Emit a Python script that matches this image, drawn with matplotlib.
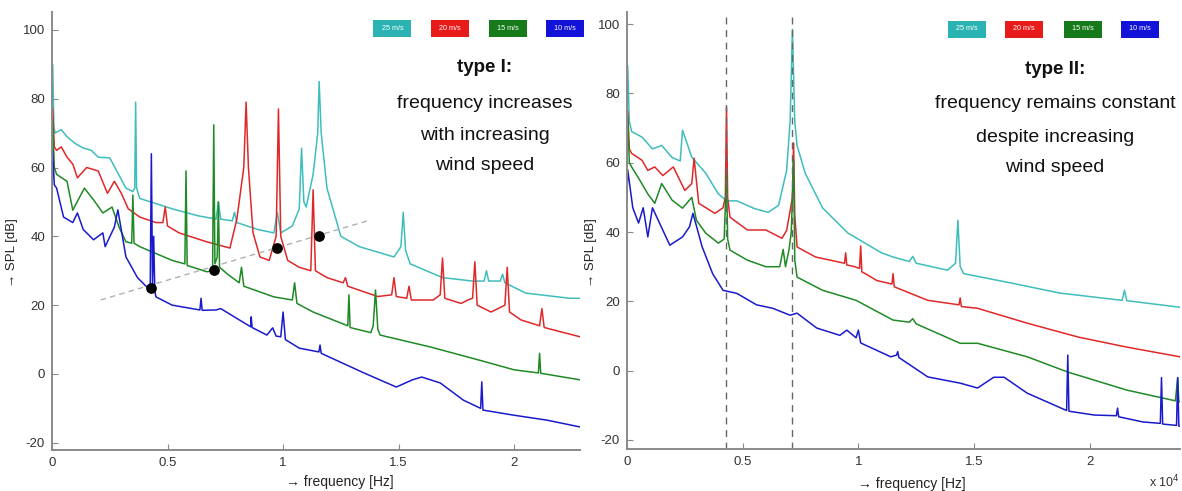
"""
plot.py - tonal peaks in SPL spectra at four wind speeds (type I vs type II).

Writes out.png (1182 x 491 px).
"""

import matplotlib.pyplot as plt
from matplotlib.patches import Rectangle

plt.rcParams.update({"font.family": ["Liberation Sans", "DejaVu Sans"],
                     "font.size": 9, "axes.unicode_minus": False})

# ---- data (frequency in 10^4 Hz, SPL in dB) ---------------------------------
speeds = ["25 m/s", "20 m/s", "15 m/s", "10 m/s"]
colors = ["#3FBDBD", "#E0282A", "#1F8A25", "#1A1ACC"]
box_colors = ["#2BB3B3", "#E81B1B", "#177A1A", "#1212D8"]

# type I (left panel)
l25_f = [0, 0.003, 0.008, 0.013, 0.04, 0.064, 0.1, 0.134, 0.17, 0.2, 0.25, 0.285,
         0.32, 0.35, 0.358, 0.362, 0.366, 0.38, 0.45, 0.52, 0.63, 0.71, 0.72, 0.73,
         0.78, 0.79, 0.80, 0.89, 0.96, 0.975, 0.99, 1.04, 1.07, 1.08, 1.09, 1.10,
         1.13, 1.15, 1.156, 1.165, 1.19, 1.25, 1.33, 1.48, 1.51, 1.52, 1.53, 1.55,
         1.69, 1.82, 1.87, 1.88, 1.89, 1.94, 1.95, 1.96, 2.05, 2.24, 2.285]
l25_db = [72, 90, 72, 70, 71, 69, 67, 65.7, 65, 63, 62.8, 58.4,
          54, 53, 54, 79, 54, 51, 49.5, 48, 46, 45, 50, 45,
          44.5, 47, 44, 42, 41, 47, 41, 43, 48, 65.6, 50, 48.5,
          58, 70, 85, 70, 54, 40, 37, 34, 37, 47, 36, 32,
          28, 27, 27, 30, 27, 27, 29, 26.5, 23.5, 22, 22]

l20_f = [0, 0.003, 0.01, 0.02, 0.04, 0.065, 0.09, 0.11, 0.15, 0.2, 0.24, 0.27,
         0.30, 0.33, 0.38, 0.45, 0.48, 0.49, 0.50, 0.55, 0.67, 0.77, 0.80, 0.83,
         0.84, 0.85, 0.87, 0.90, 0.94, 0.97, 0.98, 0.99, 1.02, 1.07, 1.12, 1.13,
         1.14, 1.19, 1.26, 1.27, 1.28, 1.41, 1.47, 1.48, 1.49, 1.535, 1.545, 1.555,
         1.65, 1.68, 1.69, 1.70, 1.77, 1.80, 1.82, 1.83, 1.84, 1.90, 1.96, 1.97,
         1.98, 2.03, 2.11, 2.12, 2.13, 2.285]
l20_db = [65, 77, 66, 65, 66, 63, 61, 57, 60, 59, 52.5, 56,
          52.5, 48, 45.6, 44, 44, 48.5, 43, 41, 38.4, 36.6, 45, 60,
          79, 60, 41, 34, 33, 40, 77, 40, 33, 31, 30, 53.5,
          30, 28, 26.5, 28, 25.5, 22.5, 23, 28, 22.5, 22, 25.5, 21.5,
          21.5, 23, 33.7, 22, 20.5, 21.5, 22, 32.6, 20, 18, 20, 31,
          18, 15.7, 14, 19, 13.5, 10.8]

l15_f = [0, 0.003, 0.01, 0.02, 0.065, 0.09, 0.14, 0.18, 0.22, 0.26, 0.29, 0.32,
         0.345, 0.35, 0.355, 0.38, 0.52, 0.575, 0.58, 0.585, 0.61, 0.67, 0.695,
         0.70, 0.705, 0.715, 0.72, 0.725, 0.76, 0.81, 0.82, 0.83, 0.96, 1.04, 1.05,
         1.06, 1.13, 1.28, 1.285, 1.29, 1.38, 1.39, 1.40, 1.41, 1.42, 1.64, 1.85,
         2.0, 2.105, 2.11, 2.115, 2.285]
l15_db = [60, 74, 60, 58, 56, 47.6, 54, 50.6, 46.8, 48.5, 42.7, 38.4,
          38, 52, 38, 37, 33, 32, 59, 31.5, 31, 29.7, 30,
          72.4, 32, 34, 50, 31, 29, 26.5, 31, 25.5, 22.4, 21.5, 26.5,
          20.5, 18, 14, 23, 13.5, 12, 14, 24.4, 13, 11.3, 7.8, 4,
          1.2, 0.3, 6, 0.2, -1.7]

l10_f = [0, 0.003, 0.01, 0.02, 0.05, 0.09, 0.11, 0.135, 0.18, 0.22, 0.23, 0.27,
         0.285, 0.32, 0.37, 0.41, 0.425, 0.43, 0.435, 0.44, 0.445, 0.45, 0.52,
         0.64, 0.645, 0.65, 0.71, 0.73, 0.86, 0.862, 0.866, 0.93, 0.955, 0.97,
         0.99, 1.0, 1.01, 1.07, 1.155, 1.16, 1.165, 1.35, 1.49, 1.56, 1.6, 1.68,
         1.78, 1.855, 1.86, 1.865, 2.0, 2.14, 2.285]
l10_db = [50, 65, 55, 54, 45.6, 44, 46.8, 42, 39, 41, 37, 42.7,
          47.7, 34, 28, 25.3, 25, 64, 26, 40, 24, 22.4, 20,
          18.6, 22, 18.5, 18.6, 19, 13.7, 16.6, 13.5, 11.3, 13.4, 11,
          10.8, 18, 10, 7.5, 6.4, 8.4, 6, 0.3, -3.8, -1.7, -0.9, -2.6,
          -7.6, -10, -2.3, -10.5, -12, -13.4, -15.4]

# type II (right panel)
r25_f = [0, 0.003, 0.01, 0.02, 0.065, 0.11, 0.15, 0.195, 0.23, 0.24, 0.28, 0.34,
         0.395, 0.43, 0.475, 0.55, 0.61, 0.655, 0.69, 0.705, 0.715, 0.725, 0.735,
         0.77, 0.845, 0.955, 1.10, 1.15, 1.22, 1.235, 1.25, 1.385, 1.42, 1.43,
         1.44, 1.455, 1.66, 1.87, 2.14, 2.15, 2.16, 2.39]
r25_db = [70, 88, 72, 69, 67.4, 64, 65, 61.5, 60.5, 69.4, 61.6, 57,
          51, 49, 49, 46.8, 45.7, 47.7, 57.8, 72, 98.5, 72, 65,
          57, 47, 39.7, 34, 32.8, 31.5, 33, 31, 29, 31, 43.4,
          30, 28, 25.3, 22.4, 20.3, 23.2, 20.2, 18.3]

r20_f = [0, 0.003, 0.01, 0.02, 0.065, 0.09, 0.12, 0.155, 0.2, 0.25, 0.28, 0.29,
         0.31, 0.38, 0.415, 0.425, 0.43, 0.435, 0.445, 0.52, 0.6, 0.67, 0.69,
         0.715, 0.72, 0.725, 0.735, 0.815, 0.94, 0.945, 0.95, 0.985, 1.005, 1.01,
         1.015, 1.03, 1.08, 1.145, 1.15, 1.155, 1.30, 1.435, 1.44, 1.445, 1.515,
         1.73, 1.95, 2.16, 2.39]
r20_db = [62, 75, 64, 62.7, 60.7, 57.8, 58.8, 56.3, 58.8, 52, 54, 61.3,
          48.3, 45.4, 47, 50, 76, 50, 44.3, 40.6, 40.6, 38.2, 40.5,
          50, 65.7, 45, 35.7, 32.8, 31, 34, 30.5, 30, 29.5, 36,
          28.5, 28, 26, 25, 28, 24.2, 20.3, 19, 21, 18.5, 18,
          13.7, 9.7, 6.8, 4]

r15_f = [0, 0.003, 0.01, 0.02, 0.055, 0.09, 0.12, 0.15, 0.195, 0.24, 0.28, 0.30,
         0.34, 0.395, 0.42, 0.43, 0.435, 0.445, 0.52, 0.6, 0.66, 0.675, 0.685,
         0.70, 0.71, 0.72, 0.725, 0.735, 0.845, 0.99, 1.15, 1.22, 1.235, 1.25,
         1.44, 1.515, 1.73, 1.905, 2.16, 2.37, 2.38, 2.385, 2.39]
r15_db = [60, 73.7, 60, 58.8, 55, 51, 48.3, 54, 49.2, 46.9, 50, 43.4,
          39.7, 36.8, 38, 57, 38, 34.8, 31.9, 30, 30, 35, 30,
          34.8, 40, 60.8, 32, 27, 23.2, 20.3, 14.6, 14, 15, 13.5,
          7.9, 7.9, 4, -0.4, -5.6, -8.7, -2, -8.9, -9]

r10_f = [0, 0.003, 0.025, 0.05, 0.07, 0.09, 0.11, 0.135, 0.185, 0.24, 0.27, 0.285,
         0.325, 0.37, 0.415, 0.475, 0.56, 0.63, 0.705, 0.735, 0.82, 0.92, 0.95,
         0.99, 1.0, 1.01, 1.14, 1.165, 1.17, 1.175, 1.30, 1.44, 1.515, 1.585,
         1.63, 1.73, 1.9, 1.905, 1.91, 2.02, 2.115, 2.12, 2.125, 2.23, 2.305,
         2.31, 2.315, 2.36, 2.375, 2.38, 2.385, 2.39]
r10_db = [50, 58, 47, 42.6, 47, 38.6, 47, 43.4, 36.2, 38.6, 41.5, 45.4,
          35.7, 28, 23.2, 22.3, 19, 18, 16, 16.6, 12.3, 10.2, 11.7,
          9.5, 11.7, 8, 4, 4.5, 5.5, 3.8, -1.8, -3.6, -5, -1.9,
          -1.9, -6.5, -11.5, 4.5, -11.7, -12.8, -13, -10.8, -13.3, -14.8, -15.2,
          -2, -15.4, -15.7, -15.8, -2, -16, -16]

left_series = [(l25_f, l25_db), (l20_f, l20_db), (l15_f, l15_db), (l10_f, l10_db)]
right_series = [(r25_f, r25_db), (r20_f, r20_db), (r15_f, r15_db), (r10_f, r10_db)]

# type I: peak frequency rising with wind speed
trend_f = [0.21, 1.38]
trend_db = [21.5, 44.8]
dots_f = [0.43, 0.70, 0.974, 1.156]
dots_db = [25, 30.2, 36.6, 40.1]

# type II: fixed tones
fixed_f = [0.429, 0.713]

W, H = 1182, 491


def style_axes(ax, xmax, ymin, ymax):
    ax.set_xlim(0, xmax)
    ax.set_ylim(ymin, ymax)
    ax.set_xticks([0, 0.5, 1, 1.5, 2])
    ax.set_xticklabels(["0", "0.5", "1", "1.5", "2"])
    ax.set_yticks([-20, 0, 20, 40, 60, 80, 100])
    for s in ("top", "right"):
        ax.spines[s].set_visible(False)
    for s in ("left", "bottom"):
        ax.spines[s].set_color("#8A8A8A")
        ax.spines[s].set_linewidth(1.4)
    ax.tick_params(direction="in", length=4, color="#8A8A8A",
                   labelsize=9.5, labelcolor="#333333", pad=5)
    ax.set_ylabel("→ SPL [dB]", fontsize=9.5, color="#222222")
    ax.set_xlabel("→ frequency [Hz]", fontsize=10, color="#222222")


def legend_boxes(centers_px, y_px):
    for cx, lab, c in zip(centers_px, speeds, box_colors):
        fig.patches.append(Rectangle(((cx - 19) / W, 1 - (y_px + 8.5) / H),
                                     38 / W, 17 / H, transform=fig.transFigure,
                                     facecolor=c, edgecolor="none"))
        fig.text(cx / W, 1 - y_px / H, lab, color="white", fontsize=5.2,
                 ha="center", va="center")


fig = plt.figure(figsize=(W / 100, H / 100), dpi=100)
ax1 = fig.add_axes([52 / W, 1 - 450 / H, 528 / W, 438 / H])
ax2 = fig.add_axes([627 / W, 1 - 449 / H, 553 / W, 437 / H])

for (f, db), c in zip(left_series, colors):
    ax1.plot(f, db, color=c, lw=1.1)
ax1.plot(trend_f, trend_db, ls=(0, (4, 3)), color="#B0B0B0", lw=1.0)
ax1.scatter(dots_f, dots_db, s=45, color="black", zorder=5)
style_axes(ax1, 2.285, -22.1, 105.2)
ax1.yaxis.set_label_coords(-0.064, 0.45)
ax1.xaxis.set_label_coords(0.545, -0.057)

for (f, db), c in zip(right_series, colors):
    ax2.plot(f, db, color=c, lw=1.1)
for xv in fixed_f:
    ax2.axvline(xv, ls=(0, (5, 4)), color="#666666", lw=1.0)
style_axes(ax2, 2.39, -22.6, 103.5)
ax2.yaxis.set_label_coords(-0.054, 0.45)
ax2.xaxis.set_label_coords(0.515, -0.065)
fig.text(1180 / W, 1 - 482 / H, "x 10$^4$", fontsize=9, color="#333333",
         ha="right", va="center")

legend_boxes([392.5, 450, 508, 564.5], 28)
legend_boxes([967, 1024, 1082.5, 1140], 29)

notes = [
    (485, [68, 103, 135, 166],
     ["type I:", "frequency increases", "with increasing", "wind speed"]),
    (1055, [70, 103, 137, 168],
     ["type II:", "frequency remains constant", "despite increasing", "wind speed"]),
]
for cx, ys, lines in notes:
    for i, (yp, txt) in enumerate(zip(ys, lines)):
        fig.text(cx / W, 1 - yp / H, txt, fontsize=14 if i else 13.5,
                 fontweight="bold" if i == 0 else "normal",
                 ha="center", va="center", color="#111111")

fig.savefig("out.png", dpi=100)
